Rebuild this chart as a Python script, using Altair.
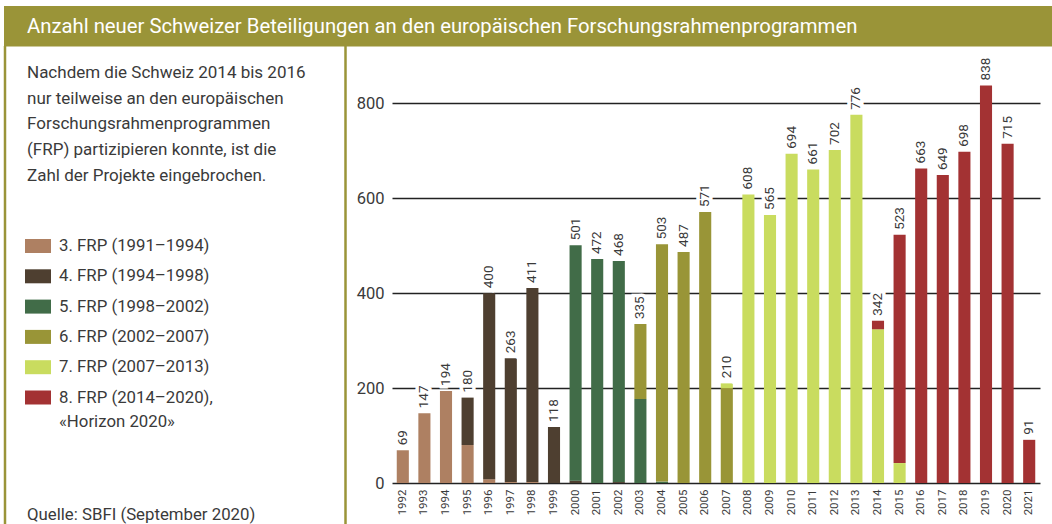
import altair as alt
import pandas as pd

years = ["1992", "1993", "1994", "1995", "1996", "1997", "1998", "1999", "2000", "2001",
         "2002", "2003", "2004", "2005", "2006", "2007", "2008", "2009", "2010", "2011",
         "2012", "2013", "2014", "2015", "2016", "2017", "2018", "2019", "2020", "2021"]

frp3 = [69, 147, 194, 80, 8, 2, 2, 0, 0, 0, 0, 0, 0, 0, 0, 0, 0, 0, 0, 0, 0, 0, 0, 0, 0, 0, 0, 0, 0, 0]
frp4 = [0, 0, 0, 100, 392, 261, 409, 118, 5, 0, 2, 0, 0, 0, 0, 0, 0, 0, 0, 0, 0, 0, 0, 0, 0, 0, 0, 0, 0, 0]
frp5 = [0, 0, 0, 0, 0, 0, 0, 0, 496, 472, 466, 177, 3, 0, 0, 0, 0, 0, 0, 0, 0, 0, 0, 0, 0, 0, 0, 0, 0, 0]
frp6 = [0, 0, 0, 0, 0, 0, 0, 0, 0, 0, 0, 158, 500, 487, 571, 200, 0, 0, 0, 0, 0, 0, 0, 0, 0, 0, 0, 0, 0, 0]
frp7 = [0, 0, 0, 0, 0, 0, 0, 0, 0, 0, 0, 0, 0, 0, 0, 10, 608, 565, 694, 661, 702, 776, 324, 42, 0, 0, 0, 0, 0, 0]
frp8 = [0, 0, 0, 0, 0, 0, 0, 0, 0, 0, 0, 0, 0, 0, 0, 0, 0, 0, 0, 0, 0, 0, 18, 481, 663, 649, 698, 838, 715, 91]

totals = [69, 147, 194, 180, 400, 263, 411, 118, 501, 472, 468, 335, 503, 487, 571, 210,
          608, 565, 694, 661, 702, 776, 342, 523, 663, 649, 698, 838, 715, 91]

programs = ["3. FRP (1991–1994)", "4. FRP (1994–1998)", "5. FRP (1998–2002)",
            "6. FRP (2002–2007)", "7. FRP (2007–2013)", "8. FRP (2014–2020)"]
colors = ["#ae8062", "#4e3f30", "#416c48", "#999537", "#c9dc5f", "#a33233"]

title_text = "Anzahl neuer Schweizer Beteiligungen an den europäischen Forschungsrahmenprogrammen"
body_lines = ["Nachdem die Schweiz 2014 bis 2016",
              "nur teilweise an den europäischen",
              "Forschungsrahmenprogrammen",
              "(FRP) partizipieren konnte, ist die",
              "Zahl der Projekte eingebrochen."]
legend_labels = ["3. FRP (1991–1994)", "4. FRP (1994–1998)", "5. FRP (1998–2002)",
                 "6. FRP (2002–2007)", "7. FRP (2007–2013)", "8. FRP (2014–2020),"]
legend_extra = "«Horizon 2020»"
source_text = "Quelle: SBFI (September 2020)"

FONT = "Roboto"
TXT = "#3a3a3a"
OLIVE = "#9a9438"

rows = []
series = [frp3, frp4, frp5, frp6, frp7, frp8]
for pi, (p, vals) in enumerate(zip(programs, series)):
    for y, v in zip(years, vals):
        if v > 0:
            rows.append({"year": y, "program": p, "value": v, "idx": pi})
df = pd.DataFrame(rows)
tdf = pd.DataFrame({"year": years, "total": totals})

xscale = alt.Scale(domain=years, paddingInner=0.44, paddingOuter=0.22)
yscale = alt.Scale(domain=[0, 900], nice=False)

bars = alt.Chart(df).mark_bar().encode(
    x=alt.X("year:O", scale=xscale, sort=years,
            axis=alt.Axis(title=None, labelAngle=270, labelAlign="right", labelBaseline="middle",
                          domain=False, ticks=False, labelPadding=6, labelFontSize=11.5,
                          labelColor=TXT, labelFont=FONT)),
    y=alt.Y("value:Q", stack="zero", scale=yscale,
            axis=alt.Axis(title=None, values=[0, 200, 400, 600, 800], grid=True,
                          gridColor="#222222", gridWidth=1.3, domain=False, ticks=False,
                          labelFontSize=16.5, labelPadding=8, labelColor=TXT, labelFont=FONT)),
    color=alt.Color("program:N", scale=alt.Scale(domain=programs, range=colors), legend=None),
    order=alt.Order("idx:Q"),
)

halo = alt.Chart(tdf).mark_text(angle=270, align="left", baseline="middle", dx=5, fontSize=13.5,
                                font=FONT, stroke="white", strokeWidth=7, fill="white").encode(
    x=alt.X("year:O", sort=years), y=alt.Y("total:Q"), text=alt.Text("total:Q"))
labels = alt.Chart(tdf).mark_text(angle=270, align="left", baseline="middle", dx=5, fontSize=13.5,
                                  font=FONT, color=TXT).encode(
    x=alt.X("year:O", sort=years), y=alt.Y("total:Q"), text=alt.Text("total:Q"))

one = pd.DataFrame({"k": [0]})
OX, OY = 392, 56

decor = []
decor.append(alt.Chart(one).mark_rect(color=OLIVE).encode(
    x=alt.value(4 - OX), x2=alt.value(1052 - OX), y=alt.value(6 - OY), y2=alt.value(46.5 - OY)))
decor.append(alt.Chart(one).mark_rule(color=OLIVE, strokeWidth=2.5).encode(
    x=alt.value(5 - OX), y=alt.value(46 - OY), y2=alt.value(524 - OY)))
decor.append(alt.Chart(one).mark_rule(color=OLIVE, strokeWidth=2.5).encode(
    x=alt.value(345.5 - OX), y=alt.value(46 - OY), y2=alt.value(524 - OY)))
decor.append(alt.Chart(one).mark_text(align="left", baseline="middle", fontSize=20.3, font=FONT,
                                      color="white").encode(
    x=alt.value(27 - OX), y=alt.value(27 - OY), text=alt.value(title_text)))
for i, line in enumerate(body_lines):
    decor.append(alt.Chart(one).mark_text(align="left", baseline="middle", fontSize=17, font=FONT,
                                          color=TXT).encode(
        x=alt.value(27 - OX), y=alt.value(73 + i * 25.7 - OY), text=alt.value(line)))
for i, (lab, col) in enumerate(zip(legend_labels, colors)):
    cy = 246 + i * 30.3
    decor.append(alt.Chart(one).mark_rect(color=col).encode(
        x=alt.value(25 - OX), x2=alt.value(51 - OX), y=alt.value(cy - 7 - OY), y2=alt.value(cy + 7 - OY)))
    decor.append(alt.Chart(one).mark_text(align="left", baseline="middle", fontSize=16.8, font=FONT,
                                          color=TXT).encode(
        x=alt.value(59 - OX), y=alt.value(cy - OY), text=alt.value(lab)))
decor.append(alt.Chart(one).mark_text(align="left", baseline="middle", fontSize=16.8, font=FONT,
                                      color=TXT).encode(
    x=alt.value(59 - OX), y=alt.value(422 - OY), text=alt.value(legend_extra)))
decor.append(alt.Chart(one).mark_text(align="left", baseline="middle", fontSize=16.8, font=FONT,
                                      color=TXT).encode(
    x=alt.value(27 - OX), y=alt.value(515 - OY), text=alt.value(source_text)))

chart = alt.layer(bars, halo, labels, *decor).properties(
    width=648, height=427,
    padding={"left": OX, "top": OY, "right": 12, "bottom": 41},
    autosize=alt.AutoSizeParams(type="none"),
    background="white",
).configure_view(stroke=None)

chart.save("out.html", embed_options={"renderer": "svg", "actions": False})
